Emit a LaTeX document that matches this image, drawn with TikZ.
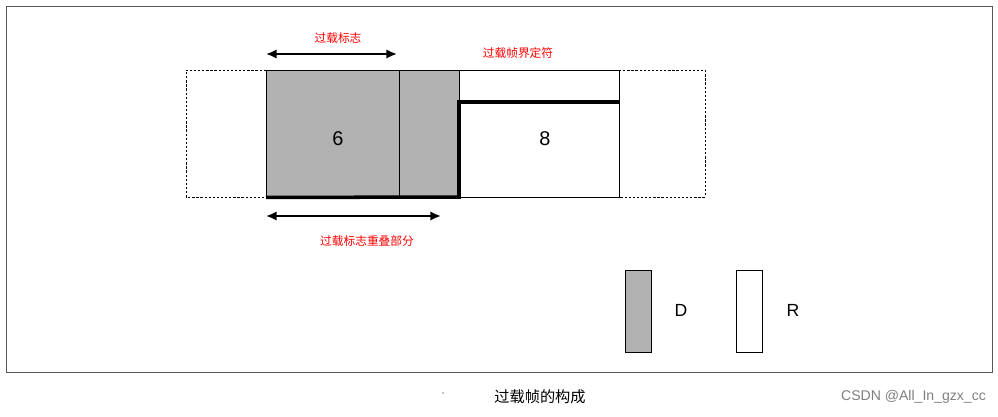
\documentclass[tikz,border=0pt]{standalone}
\usepackage{fontspec}
\setmainfont{Liberation Sans}
\newfontfamily\cjk{Noto Sans CJK SC}
\usetikzlibrary{arrows.meta}
\begin{document}
\begin{tikzpicture}[x=0.03cm,y=-0.03cm,
  lbl/.style={text=red,font=\cjk\fontsize{10}{11}\selectfont},
  dbox/.style={draw,densely dashed,dash pattern=on 2pt off 1.5pt,line width=0.8pt},
  arr/.style={{Latex[length=9pt,width=8pt]}-{Latex[length=9pt,width=8pt]},line width=1.8pt}]
\useasboundingbox (0,0) rectangle (998,417);
\draw[gray!70!black] (6,6) rectangle (992,372);
% dotted side frames
\draw[dbox] (266,70) -- (186,70) -- (186,197) -- (266,197);
\draw[dbox] (619,70) -- (705,70) -- (705,197) -- (619,197);
% boxes
\node[draw,fill=gray!60,minimum width=133*0.03cm,minimum height=127*0.03cm,inner sep=0,anchor=north west] (g1) at (266,70) {};
\node[font=\fontsize{17}{18}\selectfont] (n6) at (338,139) {6};
\node[draw,fill=gray!60,minimum width=60*0.03cm,minimum height=127*0.03cm,inner sep=0,anchor=north west] (g2) at (399,70) {};
\node[draw,minimum width=160*0.03cm,minimum height=127*0.03cm,inner sep=0,anchor=north west] (w) at (459,70) {};
\node[font=\fontsize{17}{18}\selectfont] (n8) at (545,139) {8};
\draw[dbox] (619,70) -- (619,197);
\draw[line width=3pt] (g1.south west) -- (459,197) -- (459,102) -- (619,102);
% arrows & labels
\coordinate (a1) at (266,54); \coordinate (a2) at (397,54);
\draw[arr] (a1) -- (a2);
\node[lbl] (t1) at (338,38) {过载标志};
\node[lbl] (t2) at (518,53) {过载帧界定符};
\coordinate (b1) at (266,216); \coordinate (b2) at (441,216);
\draw[arr] (b1) -- (b2);
\node[lbl] (t3) at (367,241) {过载标志重叠部分};
% legend
\node[draw,fill=gray!60,minimum width=26*0.03cm,minimum height=82*0.03cm,inner sep=0] (lg) at (638,311) {};
\node[font=\fontsize{15}{16}\selectfont] (ld) at (681,310) {D};
\node[draw,minimum width=26*0.03cm,minimum height=82*0.03cm,inner sep=0] (lr) at (749,311) {};
\node[font=\fontsize{15}{16}\selectfont] (lrt) at (793,310) {R};
% caption
\fill (443,393) circle (0.6pt);
\node[font=\cjk\fontsize{13}{14}\selectfont] (cap) at (540,397) {过载帧的构成};
\node[text=gray,font=\fontsize{12}{13}\selectfont,anchor=east] (wm) at (990,397) {CSDN @All\_In\_gzx\_cc};
\end{tikzpicture}
\end{document}
